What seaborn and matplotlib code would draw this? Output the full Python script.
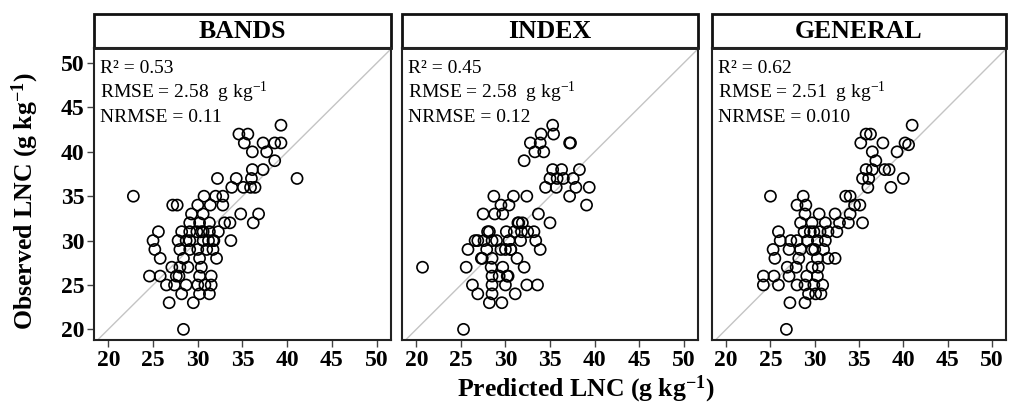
import matplotlib
matplotlib.use("Agg")
import matplotlib.pyplot as plt
import seaborn as sns
import pandas as pd
from matplotlib.patches import Rectangle

# ---------------- data ----------------
panels = ["BANDS", "INDEX", "GENERAL"]
r2_labels = ["R² = 0.53", "R² = 0.45", "R² = 0.62"]
rmse_labels = ["2.58", "2.58", "2.51"]
nrmse_labels = ["NRMSE = 0.11", "NRMSE = 0.12", "NRMSE = 0.010"]
tick_values = [20, 25, 30, 35, 40, 45, 50]

bands_pred = [39.3, 34.6, 35.6, 35.2, 36.1, 37.3, 37.7, 38.6, 39.3, 38.6, 36.1, 37.3,
              32.2, 34.3, 41.1, 33.8, 35.1, 35.9, 36.4, 36.0, 22.8, 27.2, 27.7, 30.7,
              32.0, 32.8, 30.0, 31.4, 32.8, 29.3, 30.6, 34.8, 36.8, 29.1, 30.2, 31.3,
              33.0, 33.6, 36.2, 25.6, 28.2, 29.1, 29.9, 30.6, 31.3, 32.3, 25.0, 27.8,
              28.7, 29.1, 30.6, 31.2, 31.7, 33.7, 25.2, 28.0, 29.1, 30.0, 31.0, 31.7,
              25.8, 28.4, 30.2, 32.1, 27.1, 28.0, 28.9, 30.4, 24.6, 25.8, 27.6, 30.2,
              31.5, 26.5, 27.4, 28.7, 30.0, 30.8, 31.5, 28.2, 30.2, 31.3, 26.8, 29.5,
              28.4, 27.9, 30.4, 31.8]
bands_obs = [43, 42, 42, 41, 40, 41, 40, 41, 41, 39, 38, 38,
             37, 37, 37, 36, 36, 36, 36, 37, 35, 34, 34, 35,
             35, 35, 34, 34, 34, 33, 33, 33, 33, 32, 32, 32,
             32, 32, 32, 31, 31, 31, 31, 31, 31, 31, 30, 30,
             30, 30, 30, 30, 30, 30, 29, 29, 29, 29, 29, 29,
             28, 28, 28, 28, 27, 27, 27, 27, 26, 26, 26, 26,
             26, 25, 25, 25, 25, 25, 25, 24, 24, 24, 23, 23,
             20, 26, 31, 30]

index_pred = [35.3, 34.0, 35.4, 32.8, 33.9, 37.2, 37.3, 33.3, 34.3, 32.1, 35.3, 36.3,
              38.3, 35.0, 35.8, 36.5, 37.6, 34.5, 35.7, 37.9, 39.4, 37.2, 39.1, 28.7,
              30.9, 32.4, 29.5, 30.4, 27.5, 28.8, 29.7, 33.7, 31.4, 31.5, 31.9, 35.0,
              28.0, 28.2, 30.1, 31.0, 31.8, 32.5, 33.2, 26.9, 26.6, 27.6, 28.5, 30.4,
              31.7, 33.4, 25.8, 27.9, 29.5, 30.0, 30.6, 33.9, 27.4, 28.5, 31.3, 20.7,
              25.6, 28.4, 29.7, 32.1, 28.5, 29.3, 30.2, 30.3, 26.3, 28.5, 30.0, 32.4,
              33.6, 26.9, 28.5, 31.1, 28.2, 29.6, 25.3, 30.6, 29.0, 27.3]
index_obs = [43, 42, 42, 41, 41, 41, 41, 40, 40, 39, 38, 38,
             38, 37, 37, 37, 37, 36, 36, 36, 36, 35, 34, 35,
             35, 35, 34, 34, 33, 33, 33, 33, 32, 32, 32, 32,
             31, 31, 31, 31, 31, 31, 31, 30, 30, 30, 30, 30,
             30, 30, 29, 29, 29, 29, 29, 29, 28, 28, 28, 27,
             27, 27, 27, 27, 26, 26, 26, 26, 25, 25, 25, 25,
             25, 24, 24, 24, 23, 23, 20, 29, 30, 28]

general_pred = [41.0, 35.8, 36.3, 35.2, 37.7, 40.2, 40.6, 39.3, 36.5, 36.9, 35.8, 36.5,
                37.9, 38.4, 35.4, 36.1, 40.0, 36.0, 38.6, 25.0, 33.5, 34.0, 28.7, 28.0,
                29.0, 34.5, 35.1, 28.9, 30.5, 32.3, 34.0, 28.4, 29.7, 31.2, 32.8, 33.8,
                35.4, 25.9, 28.8, 29.9, 30.6, 31.5, 32.5, 26.1, 27.3, 28.0, 29.2, 30.3,
                31.2, 25.3, 27.1, 28.4, 29.7, 31.0, 25.5, 28.2, 30.3, 31.5, 32.3, 26.9,
                27.9, 29.7, 30.4, 24.2, 25.4, 27.1, 29.1, 30.3, 24.2, 25.9, 28.0, 28.9,
                29.9, 30.9, 29.3, 30.1, 30.7, 27.2, 28.9, 26.8, 29.5, 30.0]
general_obs = [43, 42, 42, 41, 41, 41, 40.8, 40, 40, 39, 38, 38,
               38, 38, 37, 37, 37, 36, 36, 35, 35, 35, 35, 34,
               34, 34, 34, 33, 33, 33, 33, 32, 32, 32, 32, 32,
               32, 31, 31, 31, 31, 31, 31, 30, 30, 30, 30, 30,
               30, 29, 29, 29, 29, 29, 28, 28, 28, 28, 28, 27,
               27, 27, 27, 26, 26, 26, 26, 26, 25, 25, 25, 25,
               25, 25, 24, 24, 24, 23, 23, 20, 31, 29]

series_pred = [bands_pred, index_pred, general_pred]
series_obs = [bands_obs, index_obs, general_obs]

# ---------------- style ----------------
sns.set_style("ticks")
plt.rcParams["font.family"] = ["Liberation Serif", "DejaVu Serif"]
plt.rcParams["mathtext.fontset"] = "custom"
plt.rcParams["mathtext.rm"] = "Liberation Serif"
plt.rcParams["mathtext.it"] = "Liberation Serif:italic"
plt.rcParams["mathtext.bf"] = "Liberation Serif:bold"
plt.rcParams["text.color"] = "black"
plt.rcParams["xtick.labelcolor"] = "black"
plt.rcParams["ytick.labelcolor"] = "black"

fig = plt.figure(figsize=(10.1, 4.05), dpi=100)
lefts = [94, 402, 712]
widths = [297, 296, 294]
W, H = 1010, 405
ax_top, ax_bot = 48, 340
strip_px = 34
ax_h = ax_bot - ax_top

for i, name in enumerate(panels):
    ax = fig.add_axes([lefts[i] / W, 1 - ax_bot / H, widths[i] / W, ax_h / H])
    df = pd.DataFrame({"pred": series_pred[i], "obs": series_obs[i]})
    ax.axline((20, 20), (50, 50), color="#c4c4c4", lw=1.0, zorder=1)
    sns.scatterplot(data=df, x="pred", y="obs", ax=ax, marker="o", s=64,
                    facecolor="none", edgecolor="black", linewidth=1.2, zorder=3)
    ax.set_xlim(18.4, 51.6)
    ax.set_ylim(18.8, 51.7)
    ax.set_xticks(tick_values)
    ax.set_yticks(tick_values)
    ax.set_xlabel("")
    ax.set_ylabel("")
    for sp in ax.spines.values():
        sp.set_visible(True)
        sp.set_linewidth(1.5)
        sp.set_color("#222222")
    ax.tick_params(axis="both", direction="out", length=5, width=1, color="#444444",
                   labelcolor="black", labelsize=17, pad=2)
    for lab in ax.get_xticklabels() + ax.get_yticklabels():
        lab.set_fontweight("bold")
    if i > 0:
        ax.tick_params(axis="y", left=False, labelleft=False)

    # annotations (baselines)
    ax.text(0.02, 1 - 25 / ax_h, r2_labels[i], transform=ax.transAxes, ha="left",
            va="baseline", fontsize=14, color="black")
    ax.text(0.02, 1 - 50 / ax_h, "RMSE = " + rmse_labels[i] + r"  g kg$^{-1}$",
            transform=ax.transAxes, ha="left", va="baseline", fontsize=14, color="black")
    ax.text(0.02, 1 - 74 / ax_h, nrmse_labels[i], transform=ax.transAxes, ha="left",
            va="baseline", fontsize=14, color="black")

    # strip header
    h = strip_px / ax_h
    rect = Rectangle((0, 1), 1, h, transform=ax.transAxes, clip_on=False,
                     facecolor="white", edgecolor="#111111", lw=2.0)
    ax.add_patch(rect)
    ax.text(0.5, 1 + h / 2, name, transform=ax.transAxes, ha="center", va="center",
            fontsize=18.5, fontweight="bold", color="black")

fig.text(25 / W, 1 - 201 / H, r"Observed LNC (g kg$^{\mathbf{-1}}$)", rotation=90,
         ha="center", va="center", fontsize=18.5, fontweight="bold", color="black")
fig.text(586 / W, 1 - 389 / H, r"Predicted LNC (g kg$^{\mathbf{-1}}$)",
         ha="center", va="center", fontsize=18.5, fontweight="bold", color="black")

fig.savefig("out.png", dpi=100)
